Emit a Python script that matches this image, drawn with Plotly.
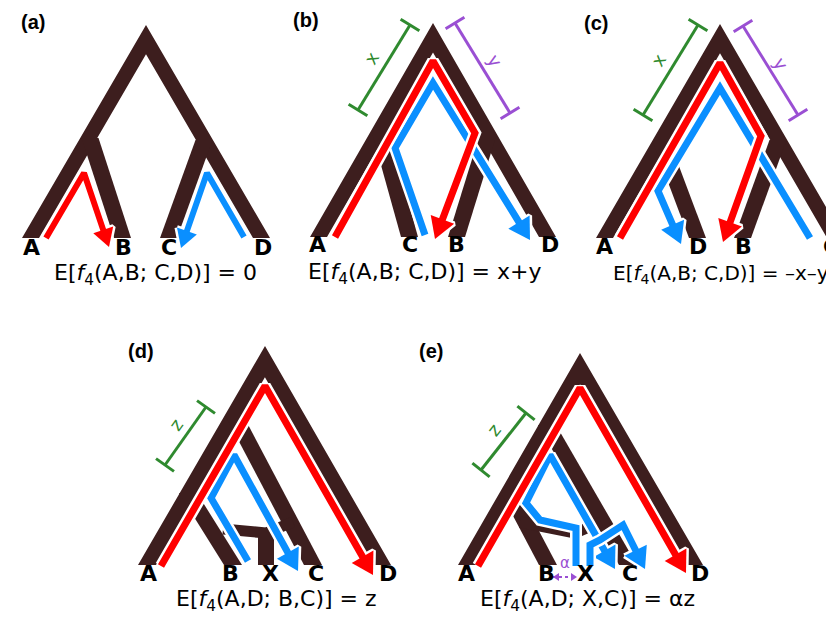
import math
import plotly.graph_objects as go

BROWN = "#3D1E1E"
RED = "#FF0000"
BLUE = "#0A8FFF"
GREEN = "#2F8A2F"
PURPLE = "#9A4FD3"
COLORS = {"red": RED, "blue": BLUE, "green": GREEN, "purple": PURPLE}

# ---------------- data ----------------
panel_tags = ["(a)", "(b)", "(c)", "(d)", "(e)"]
panel_tag_x = [25, 298, 588, 133, 423]
panel_tag_y = [14, 12, 15, 343, 343]

# root chevron of each tree (outer apex, outer bottom corners)
root_apex_x = [138, 425, 712, 257, 572]
root_apex_y = [17, 15, 16, 338, 345]
root_left_x = [14, 302, 588, 130, 450]
root_right_x = [262, 548, 836, 383, 695]
root_bottom_y = [230, 229, 230, 557, 557]
leg_width = [17, 17, 17, 18, 18]

# internal branches (top centre -> bottom centre)
sub_panel = [0, 0, 1, 1, 2, 2, 3, 3, 4, 4]
sub_top_x = [82, 196, 372, 480, 653, 770, 226, 180, 539, 503]
sub_top_y = [130, 132, 123, 127, 133, 132, 407, 485, 417, 487]
sub_bot_x = [114.5, 160.5, 401.5, 448.5, 689.5, 734.5, 305, 225, 620, 540]
sub_bot_y = [230, 230, 229, 229, 230, 230, 557, 557, 557, 557]

# admixture edges
admix_x = [[215, 258, 285], [512, 567, 593]]
admix_y = [[521, 525, 514], [514, 525, 514]]
stem_x = [258]
stem_top = [522]
stem_bottom = [557]

# arrows (drawn in this order)
arrow_color = ["blue", "red", "blue", "red", "blue", "red", "blue", "red",
               "blue", "blue", "red"]
arrow_x = [[236, 199, 173], [38, 76, 101],
           [417, 387, 425, 522], [327, 425, 467, 427],
           [802, 712, 650, 673], [612, 712, 753, 715],
           [240, 203, 226, 290], [153, 257, 365],
           [568, 568, 532, 518, 542, 607], [582, 582, 592, 615, 637],
           [470, 572, 678]]
arrow_y = [[229, 165, 240], [230, 165, 239],
           [227, 140, 75, 232], [229, 53, 125, 231],
           [230, 80, 183, 236], [230, 55, 128, 234],
           [553, 490, 447, 563], [558, 378, 567],
           [558, 520, 512, 495, 447, 561], [558, 537, 532, 517, 561],
           [558, 380, 565]]
arrow_width = [6, 6, 7, 7, 7, 7, 7, 7, 7, 7, 7]

# branch-length brackets
bracket_x0 = [350, 447, 635, 735, 157, 473]
bracket_y0 = [102, 15, 107, 18, 457, 462]
bracket_x1 = [402, 502, 690, 790, 198, 518]
bracket_y1 = [17, 105, 17, 107, 399, 405]
bracket_color = ["green", "purple", "green", "purple", "green", "green"]
bracket_label = ["x", "y", "x", "y", "z", "z"]
bracket_lx = [363, 487, 650, 773, 167, 485]
bracket_ly = [50, 52, 52, 55, 417, 422]

# leaf labels
leaf_text = ["A", "B", "C", "D",
             "A", "C", "B", "D",
             "A", "D", "B", "C",
             "A", "B", "X", "C", "D",
             "A", "B", "X", "C", "D"]
leaf_x = [23, 115, 161, 255,
          309, 402, 448, 542,
          596, 690, 735, 833,
          140, 222, 262, 308, 380,
          458, 538, 577, 622, 692]
leaf_y = [239] * 4 + [236] * 4 + [238] * 4 + [565] * 5 + [565] * 5
leaf_anchor = ["center"] * 11 + ["right"] + ["center"] * 10

# equations
eq_text = ["E[<i>f</i><sub>4</sub>(A,B; C,D)] = 0",
           "E[<i>f</i><sub>4</sub>(A,B; C,D)] = x+y",
           "E[<i>f</i><sub>4</sub>(A,B; C,D)] = \u2013x\u2013y",
           "E[<i>f</i><sub>4</sub>(A,D; B,C)] = z",
           "E[<i>f</i><sub>4</sub>(A,D; X,C)] = \u03b1z"]
eq_x = [147, 417, 713, 268, 579]
eq_y = [266, 265, 266, 592, 592]
eq_size = [22, 22, 20, 22, 22]

alpha_x, alpha_y = 557, 555
alpha_arrow_x = [545, 569]
alpha_arrow_y = [569, 569]

# ---------------- drawing ----------------
fig = go.Figure()


def poly(xs, ys, color, line_color=None, line_width=0):
    fig.add_trace(go.Scatter(
        x=xs, y=ys, mode="lines", fill="toself", fillcolor=color,
        line=dict(color=line_color or color, width=line_width),
        hoverinfo="skip", showlegend=False))


def line(xs, ys, color, width, dash=None):
    fig.add_trace(go.Scatter(
        x=xs, y=ys, mode="lines",
        line=dict(color=color, width=width, dash=dash),
        hoverinfo="skip", showlegend=False))


def chevron(ax, ay, xl, xr, yb, w):
    sl = (ax - xl) / (yb - ay)
    sr = (xr - ax) / (yb - ay)
    t = (xr - xl - 2 * w) / (sl + sr)
    ix = xl + w + t * sl
    iy = yb - t
    return ([xl, ax, xr, xr - w, ix, xl + w, xl],
            [yb, ay, yb, yb, iy, yb, yb])


# trees
for p in range(5):
    w = leg_width[p]
    xs, ys = chevron(root_apex_x[p], root_apex_y[p], root_left_x[p],
                     root_right_x[p], root_bottom_y[p], w)
    poly(xs, ys, BROWN)
for i, p in enumerate(sub_panel):
    w = leg_width[p]
    tx, ty, bx, by = sub_top_x[i], sub_top_y[i], sub_bot_x[i], sub_bot_y[i]
    poly([tx - w / 2, tx + w / 2, bx + w / 2, bx - w / 2, tx - w / 2],
         [ty, ty, by, by, ty], BROWN)
for i in range(len(admix_x)):
    line(admix_x[i], admix_y[i], BROWN, 11)
for i in range(len(stem_x)):
    sx = stem_x[i]
    poly([sx - 8, sx + 8, sx + 8, sx - 8, sx - 8],
         [stem_top[i], stem_top[i], stem_bottom[i], stem_bottom[i], stem_top[i]], BROWN)


def arrow(xs, ys, color, w, halo):
    head_len = 18 if w < 7 else 21
    head_w = 21 if w < 7 else 25
    x1, y1, x0, y0 = xs[-1], ys[-1], xs[-2], ys[-2]
    d = math.hypot(x1 - x0, y1 - y0)
    ux, uy = (x1 - x0) / d, (y1 - y0) / d
    bx, by = x1 - ux * head_len, y1 - uy * head_len
    sx = list(xs[:-1]) + [bx + ux * 2]
    sy = list(ys[:-1]) + [by + uy * 2]
    px, py = -uy, ux
    tx = [bx + px * head_w / 2, x1, bx - px * head_w / 2, bx + px * head_w / 2]
    ty = [by + py * head_w / 2, y1, by - py * head_w / 2, by + py * head_w / 2]
    if halo:
        line(sx, sy, "white", w + 5)
        poly(tx, ty, "white", "white", 5)
    else:
        line(sx, sy, color, w)
        poly(tx, ty, color)


for i in range(len(arrow_x)):
    arrow(arrow_x[i], arrow_y[i], COLORS[arrow_color[i]], arrow_width[i], True)
    arrow(arrow_x[i], arrow_y[i], COLORS[arrow_color[i]], arrow_width[i], False)

# brackets
for i in range(len(bracket_x0)):
    c = COLORS[bracket_color[i]]
    x0, y0, x1, y1 = bracket_x0[i], bracket_y0[i], bracket_x1[i], bracket_y1[i]
    line([x0, x1], [y0, y1], c, 3)
    d = math.hypot(x1 - x0, y1 - y0)
    px, py = -(y1 - y0) / d, (x1 - x0) / d
    for (cx, cy) in [(x0, y0), (x1, y1)]:
        line([cx - px * 11, cx + px * 11], [cy - py * 11, cy + py * 11], c, 3)
    ang = math.degrees(math.atan2(y1 - y0, x1 - x0))
    if ang > 90:
        ang -= 180
    if ang < -90:
        ang += 180
    fig.add_annotation(x=bracket_lx[i], y=bracket_ly[i], text=bracket_label[i],
                       showarrow=False, textangle=ang,
                       font=dict(family="DejaVu Sans", size=18, color=c))

# alpha double arrow
line(alpha_arrow_x, alpha_arrow_y, PURPLE, 2, "dot")
ax0, ax1 = alpha_arrow_x
ay0 = alpha_arrow_y[0]
poly([ax0, ax0 + 6, ax0 + 6, ax0], [ay0, ay0 - 4, ay0 + 4, ay0], PURPLE)
poly([ax1, ax1 - 6, ax1 - 6, ax1], [ay0, ay0 - 4, ay0 + 4, ay0], PURPLE)
fig.add_annotation(x=alpha_x, y=alpha_y, text="\u03b1", showarrow=False,
                   font=dict(family="DejaVu Sans", size=15, color=PURPLE))

# text
for i in range(len(leaf_text)):
    fig.add_annotation(x=leaf_x[i], y=leaf_y[i], text=leaf_text[i], showarrow=False,
                       xanchor=leaf_anchor[i],
                       font=dict(family="DejaVu Sans", size=22, color="black", weight="bold"))
for i in range(len(eq_text)):
    fig.add_annotation(x=eq_x[i], y=eq_y[i], text=eq_text[i], showarrow=False,
                       font=dict(family="DejaVu Sans", size=eq_size[i], color="black"))
for i in range(len(panel_tags)):
    fig.add_annotation(x=panel_tag_x[i], y=panel_tag_y[i], text=panel_tags[i],
                       showarrow=False,
                       font=dict(family="Liberation Sans", size=20, color="black",
                                 weight="bold"))

fig.update_layout(
    width=834, height=618, margin=dict(l=0, r=0, t=0, b=0),
    paper_bgcolor="white", plot_bgcolor="white", showlegend=False,
    xaxis=dict(range=[0, 834], visible=False, fixedrange=True),
    yaxis=dict(range=[618, 0], visible=False, fixedrange=True),
)
fig.write_html("out.html")
